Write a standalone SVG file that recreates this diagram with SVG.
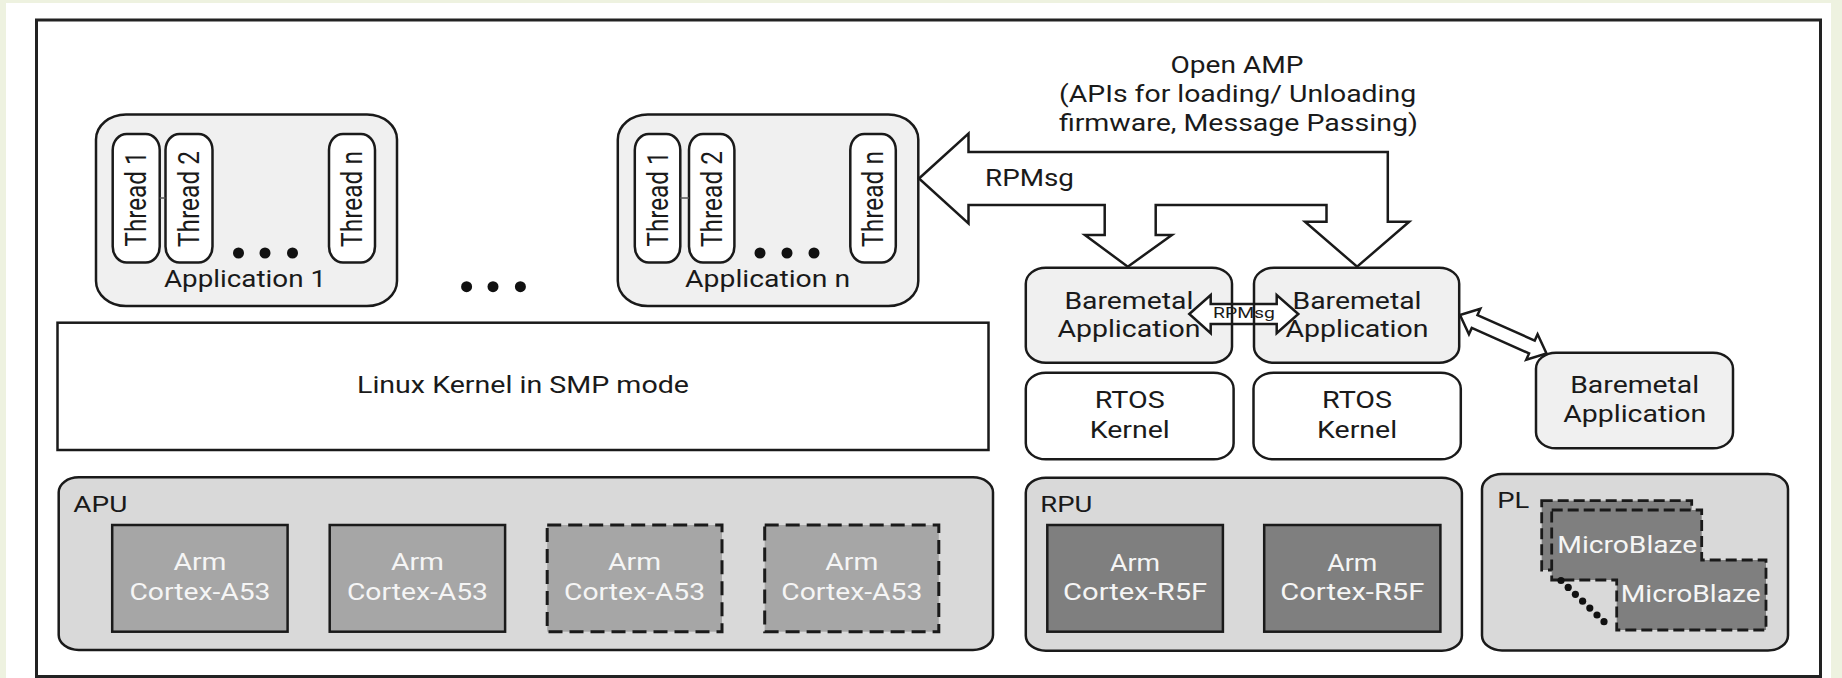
<svg xmlns="http://www.w3.org/2000/svg" width="1842" height="678" viewBox="0 0 1842 678">
<defs>
<style>
text{font-family:Roboto,"Liberation Sans",Arial,sans-serif;fill:#1a1a1a;font-size:24px}
.c{text-anchor:middle}
.lbl{font-size:22px}
.sm{font-size:15px}
.w{fill:#f5f5f5}
.app{fill:#f0f0f0;stroke:#1a1a1a;stroke-width:2.5}
.thr{fill:#fff;stroke:#1a1a1a;stroke-width:2.5}
.ker{fill:#fff;stroke:#1a1a1a;stroke-width:2.5}
.grp{fill:#d9d9d9;stroke:#1a1a1a;stroke-width:2.5}
.a53{fill:#a6a6a6;stroke:#1a1a1a;stroke-width:2.5}
.dash{stroke-dasharray:14 7;stroke-width:3}
.r5{fill:#7f7f7f;stroke:#1a1a1a;stroke-width:2.5}
.mb{fill:#7f7f7f;stroke:#1a1a1a;stroke-width:2.8;stroke-dasharray:11 5}
.arr{fill:#fff;stroke:#1a1a1a;stroke-width:2.5;stroke-linejoin:miter}
.dot{fill:#111}
.lnk{stroke:#555;stroke-width:1.5}
</style>
</defs>
<rect width="1842" height="678" fill="#eef2e0"/>
<rect x="6" y="3" width="1825" height="675" fill="#fff"/>
<rect id="frame" x="36.5" y="20" width="1784" height="656.5" fill="none" stroke="#222" stroke-width="3"/>

<g id="app1">
<rect class="app" x="96" y="114.5" width="301" height="191.5" rx="30" ry="25"/>
<rect class="thr" x="112.7" y="134" width="47" height="128.5" rx="14" ry="16"/>
<rect class="thr" x="165.5" y="134" width="47" height="128.5" rx="14" ry="16"/>
<rect class="thr" x="329" y="134" width="46" height="128.5" rx="14" ry="16"/>
<line class="lnk" x1="159.7" y1="198" x2="165.5" y2="198"/>
<text class="c" transform="translate(136.2,199) rotate(-90) scale(1,1.2)" y="8.5" textLength="95" lengthAdjust="spacingAndGlyphs">Thread 1</text>
<text class="c" transform="translate(189,199) rotate(-90) scale(1,1.2)" y="8.5" textLength="96" lengthAdjust="spacingAndGlyphs">Thread 2</text>
<text class="c" transform="translate(352,199) rotate(-90) scale(1,1.2)" y="8.5" textLength="96" lengthAdjust="spacingAndGlyphs">Thread n</text>
<circle class="dot" cx="238.5" cy="253" r="5.5"/>
<circle class="dot" cx="265" cy="253" r="5.5"/>
<circle class="dot" cx="292.5" cy="253" r="5.5"/>
<text class="c" x="245" y="287" textLength="162" lengthAdjust="spacingAndGlyphs">Application 1</text>
</g>

<g id="dots-mid">
<circle class="dot" cx="466.6" cy="286.7" r="5.5"/>
<circle class="dot" cx="493" cy="286.7" r="5.5"/>
<circle class="dot" cx="520.4" cy="286.7" r="5.5"/>
</g>

<g id="appn">
<rect class="app" x="617.8" y="114.5" width="300.5" height="191.5" rx="30" ry="25"/>
<rect class="thr" x="634.8" y="134" width="45.5" height="128.5" rx="14" ry="16"/>
<rect class="thr" x="689" y="134" width="45.4" height="128.5" rx="14" ry="16"/>
<rect class="thr" x="850.3" y="134" width="45.5" height="128.5" rx="14" ry="16"/>
<line class="lnk" x1="680.3" y1="198" x2="689" y2="198"/>
<text class="c" transform="translate(657.5,199) rotate(-90) scale(1,1.2)" y="8.5" textLength="95" lengthAdjust="spacingAndGlyphs">Thread 1</text>
<text class="c" transform="translate(711.7,199) rotate(-90) scale(1,1.2)" y="8.5" textLength="96" lengthAdjust="spacingAndGlyphs">Thread 2</text>
<text class="c" transform="translate(873,199) rotate(-90) scale(1,1.2)" y="8.5" textLength="96" lengthAdjust="spacingAndGlyphs">Thread n</text>
<circle class="dot" cx="760" cy="253" r="5.5"/>
<circle class="dot" cx="787" cy="253" r="5.5"/>
<circle class="dot" cx="814" cy="253" r="5.5"/>
<text class="c" x="767.6" y="287" textLength="165" lengthAdjust="spacingAndGlyphs">Application n</text>
</g>

<g id="linux">
<rect class="ker" x="57.5" y="322.7" width="931" height="127.3"/>
<text class="c" x="523" y="393" textLength="332" lengthAdjust="spacingAndGlyphs">Linux Kernel in SMP mode</text>
</g>

<g id="apu">
<rect class="grp" x="58.7" y="477.3" width="934.3" height="172.7" rx="20" ry="15"/>
<text class="lbl" x="73.3" y="511.7" textLength="54" lengthAdjust="spacingAndGlyphs">APU</text>
<rect class="a53" x="112.2" y="525" width="175.4" height="106.7"/>
<rect class="a53" x="329.7" y="525" width="175.4" height="106.7"/>
<rect class="a53 dash" x="547.2" y="525" width="174.8" height="106.7"/>
<rect class="a53 dash" x="764.7" y="525" width="174.1" height="106.7"/>
<text class="c w" x="199.9" y="570" textLength="53" lengthAdjust="spacingAndGlyphs">Arm</text>
<text class="c w" x="199.9" y="600" textLength="141" lengthAdjust="spacingAndGlyphs">Cortex-A53</text>
<text class="c w" x="417.4" y="570" textLength="53" lengthAdjust="spacingAndGlyphs">Arm</text>
<text class="c w" x="417.4" y="600" textLength="141" lengthAdjust="spacingAndGlyphs">Cortex-A53</text>
<text class="c w" x="634.6" y="570" textLength="53" lengthAdjust="spacingAndGlyphs">Arm</text>
<text class="c w" x="634.6" y="600" textLength="141" lengthAdjust="spacingAndGlyphs">Cortex-A53</text>
<text class="c w" x="851.8" y="570" textLength="53" lengthAdjust="spacingAndGlyphs">Arm</text>
<text class="c w" x="851.8" y="600" textLength="141" lengthAdjust="spacingAndGlyphs">Cortex-A53</text>
</g>

<g id="bm1">
<rect class="app" x="1025.8" y="267.7" width="206.2" height="95" rx="20" ry="16"/>
<text class="c" x="1128.9" y="308.5" textLength="129" lengthAdjust="spacingAndGlyphs">Baremetal</text>
<text class="c" x="1128.9" y="337" textLength="143" lengthAdjust="spacingAndGlyphs">Application</text>
</g>
<g id="bm2">
<rect class="app" x="1254" y="267.7" width="205.2" height="95" rx="20" ry="16"/>
<text class="c" x="1357" y="308.5" textLength="129" lengthAdjust="spacingAndGlyphs">Baremetal</text>
<text class="c" x="1357" y="337" textLength="143" lengthAdjust="spacingAndGlyphs">Application</text>
</g>
<g id="rtos1">
<rect class="ker" x="1025.8" y="372.7" width="207.8" height="86.6" rx="20" ry="16"/>
<text class="c" x="1129.7" y="408.3" textLength="70" lengthAdjust="spacingAndGlyphs">RTOS</text>
<text class="c" x="1129.7" y="437.7" textLength="80" lengthAdjust="spacingAndGlyphs">Kernel</text>
</g>
<g id="rtos2">
<rect class="ker" x="1253.5" y="372.7" width="207.3" height="86.6" rx="20" ry="16"/>
<text class="c" x="1357.1" y="408.3" textLength="70" lengthAdjust="spacingAndGlyphs">RTOS</text>
<text class="c" x="1357.1" y="437.7" textLength="80" lengthAdjust="spacingAndGlyphs">Kernel</text>
</g>
<g id="bm3">
<rect class="app" x="1536" y="352.7" width="197" height="95.6" rx="20" ry="16"/>
<text class="c" x="1634.7" y="393.3" textLength="129" lengthAdjust="spacingAndGlyphs">Baremetal</text>
<text class="c" x="1634.7" y="422" textLength="143" lengthAdjust="spacingAndGlyphs">Application</text>
</g>

<g id="rpu">
<rect class="grp" x="1025.8" y="477.7" width="436.1" height="173" rx="20" ry="15"/>
<text class="lbl" x="1040.3" y="511.7" textLength="52" lengthAdjust="spacingAndGlyphs">RPU</text>
<rect class="r5" x="1047.3" y="525" width="175.6" height="106.7"/>
<rect class="r5" x="1264.2" y="525" width="176.2" height="106.7"/>
<text class="c w" x="1135.1" y="570.5" textLength="50" lengthAdjust="spacingAndGlyphs">Arm</text>
<text class="c w" x="1135.1" y="600" textLength="144" lengthAdjust="spacingAndGlyphs">Cortex-R5F</text>
<text class="c w" x="1352.3" y="570.5" textLength="50" lengthAdjust="spacingAndGlyphs">Arm</text>
<text class="c w" x="1352.3" y="600" textLength="144" lengthAdjust="spacingAndGlyphs">Cortex-R5F</text>
</g>

<g id="pl">
<rect class="grp" x="1482" y="474" width="306" height="176.5" rx="20" ry="15"/>
<text class="lbl" x="1497.3" y="508.3" textLength="32" lengthAdjust="spacingAndGlyphs">PL</text>
<rect class="mb" x="1541.7" y="500.7" width="150" height="69.3"/>
<path class="mb" d="M1551.7,510 H1701.7 V560 H1766 V630 H1616.7 V580 H1551.7 Z"/>
<text class="w" x="1557.3" y="553.3" textLength="140" lengthAdjust="spacingAndGlyphs">MicroBlaze</text>
<text class="w" x="1620.7" y="601.7" textLength="140" lengthAdjust="spacingAndGlyphs">MicroBlaze</text>
<circle class="dot" cx="1561" cy="580.5" r="3.6"/>
<circle class="dot" cx="1568.2" cy="587.4" r="3.6"/>
<circle class="dot" cx="1575.4" cy="594.3" r="3.6"/>
<circle class="dot" cx="1582.6" cy="601.2" r="3.6"/>
<circle class="dot" cx="1589.8" cy="608.1" r="3.6"/>
<circle class="dot" cx="1597" cy="615" r="3.6"/>
<circle class="dot" cx="1604" cy="621.7" r="3.6"/>
</g>

<g id="connectors">
<text class="c" x="1237" y="73" textLength="133" lengthAdjust="spacingAndGlyphs">Open AMP</text>
<text class="c" x="1237.6" y="102" textLength="357" lengthAdjust="spacingAndGlyphs">(APIs for loading/ Unloading</text>
<text class="c" x="1238.4" y="131" textLength="359" lengthAdjust="spacingAndGlyphs">firmware, Message Passing)</text>
<path class="arr" d="M919,178.5 L968.5,133.5 L968.5,152 L1387.8,152 L1387.8,221.7 L1409.2,221.7 L1357.1,266.7 L1305,221.7 L1326.5,221.7 L1326.5,205 L1155.7,205 L1155.7,235 L1171.9,235 L1127.8,266.7 L1084.9,235 L1104.7,235 L1104.7,205 L968.5,205 L968.5,223.5 Z"/>
<text x="985" y="185.5" textLength="89" lengthAdjust="spacingAndGlyphs">RPMsg</text>
<path class="arr" d="M1189.3,314 L1210.7,295 L1210.7,304 L1276.7,304 L1276.7,295 L1298.3,314 L1276.7,333.3 L1276.7,324 L1210.7,324 L1210.7,333.3 Z"/>
<line x1="1232" y1="304" x2="1232" y2="324" stroke="#1a1a1a" stroke-width="2.5"/>
<line x1="1254" y1="304" x2="1254" y2="324" stroke="#1a1a1a" stroke-width="2.5"/>
<text class="c sm" x="1244" y="317.5" textLength="62" lengthAdjust="spacingAndGlyphs">RPMsg</text>
<path class="arr" transform="translate(1460,315) rotate(24)" d="M0,0 L16,-14 L16,-7 L78.7,-7 L78.7,-14 L94.7,0 L78.7,14 L78.7,7 L16,7 L16,14 Z"/>
</g>
</svg>
